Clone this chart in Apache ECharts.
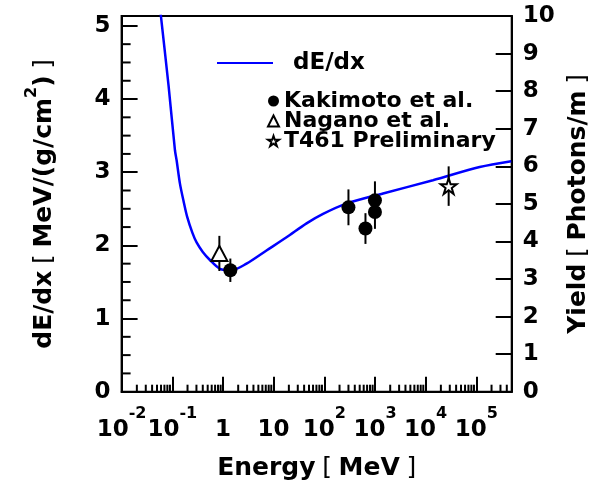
<!DOCTYPE html>
<html><head><meta charset="utf-8">
<script src="https://cdn.jsdelivr.net/npm/echarts@6/dist/echarts.min.js"></script>
<style>html,body{margin:0;padding:0;background:#fff}#c{width:595px;height:482px}</style>
</head><body><div id="c"></div>
<script>
const FONT = '"DejaVu Sans", "Liberation Sans", sans-serif';

// dE/dx curve (energy in MeV, dE/dx in MeV/(g/cm^2))
const curveEnergy = [0.0526, 0.0598, 0.0846, 0.113, 0.122, 0.142, 0.170, 0.197, 0.25, 0.302, 0.40, 0.553, 0.87, 1.48, 2.92, 7.24, 18.0, 44.7, 94.6, 273, 1445, 13960, 116500, 490000];
const curveDEdx   = [5.5,    5.13,   4.18,   3.30,  3.16,  2.84,  2.58,  2.39,  2.17, 2.04,  1.91, 1.80,  1.68, 1.66, 1.75, 1.93, 2.11, 2.30, 2.43, 2.57, 2.71, 2.89,  3.07,   3.15];

// Kakimoto et al.
const kakE   = [1.4, 300, 650, 1000, 1000];
const kakV   = [1.66, 2.52, 2.23, 2.615, 2.456];
const kakErr = [0.16, 0.245, 0.21, 0.26, 0.23];
// Nagano et al.
const nagE   = [0.85];
const nagV   = [1.89];
const nagErr = [0.24];
// T461 Preliminary
const t461E   = [28500];
const t461V   = [2.81];
const t461Err = [0.27];

// axis ranges
const xMin = 0.01, xMax = 5e5;
const yMax = 5.135, y2Max = 10;

const pairs = (xs, ys) => xs.map((x, i) => [x, ys[i]]);
const errs = (xs, ys, es) => xs.map((x, i) => [x, ys[i] - es[i], ys[i] + es[i]]);

// minor tick positions for the log axis (2..9 x 10^k) and the left axis (quarters)
const xMinor = [];
for (let e = -2; e <= 5; e++) for (let m = 2; m <= 9; m++) { const v = m * Math.pow(10, e); if (v < xMax) xMinor.push([v, 0]); }
const yMinor = [];
for (let k = 1; k * 0.25 < yMax; k++) if (k % 4) yMinor.push([xMin, k * 0.25]);

const STAR = 'path://M50,0 L61.8,35.1 L98.9,35.1 L68.9,56.8 L80.3,91.9 L50,70.2 L19.7,91.9 L31.1,56.8 L1.1,35.1 L38.2,35.1 Z';

const chart = echarts.init(document.getElementById('c'));
const bold = {fontFamily: FONT, fontWeight: 'bold', color: '#000'};

chart.setOption({
  animation: false,
  backgroundColor: '#fff',
  grid: {left: 121.6, right: 83.3, top: 16, bottom: 90.3, show: true, borderColor: '#000', borderWidth: 2, backgroundColor: 'transparent', outerBoundsMode: 'none'},
  legend: [
    {data: [{name: 'dE/dx', icon: 'rect'}], left: 212, top: 46, itemWidth: 56, itemHeight: 2, selectedMode: false,
     textStyle: Object.assign({fontSize: 23, lineHeight: 24, padding: [0, 0, 0, 15]}, bold)},
    {data: ['Kakimoto et al.', 'Nagano et al.', 'T461 Preliminary'], orient: 'vertical', left: 262, top: 85,
     itemWidth: 11, itemHeight: 11, itemGap: -2, selectedMode: false,
     textStyle: Object.assign({fontSize: 22, lineHeight: 22}, bold)}
  ],
  xAxis: {
    type: 'log', logBase: 10, min: xMin, max: xMax,
    axisLine: {lineStyle: {color: '#000', width: 2}},
    axisTick: {inside: true, length: 15, lineStyle: {color: '#000', width: 2}},
    splitLine: {show: false},
    axisLabel: {
      margin: 15, interval: 0, showMinLabel: true, showMaxLabel: false, hideOverlap: false,
      formatter: function (v) {
        const l = Math.log10(v), e = Math.round(l);
        if (Math.abs(l - e) > 1e-6) return '';
        if (e === 0) return '{b|1}';
        if (e === 1) return '{b|10}';
        return '{b|10}{s|' + e + '}';
      },
      rich: {
        b: Object.assign({fontSize: 23, lineHeight: 24, padding: [22, 0, 0, 0]}, bold),
        s: Object.assign({fontSize: 16, lineHeight: 16, padding: [10, 0, 20, 0]}, bold)
      }
    },
    name: '{b|Energy}  {n|[}  {b|MeV}  {n|]}',
    nameLocation: 'middle', nameGap: 64, nameMoveOverlap: false,
    nameTextStyle: {rich: {
      b: Object.assign({fontSize: 25}, bold),
      n: {fontFamily: FONT, fontSize: 25, color: '#000'}
    }}
  },
  yAxis: [
    {
      type: 'value', min: 0, max: yMax, interval: 1, position: 'left',
      axisLine: {show: true, lineStyle: {color: '#000', width: 2}},
      axisTick: {inside: true, length: 16, lineStyle: {color: '#000', width: 2}},
      splitLine: {show: false},
      axisLabel: Object.assign({fontSize: 23, margin: 11, showMaxLabel: false, showMinLabel: true,
        formatter: v => Number.isInteger(v) ? String(v) : ''}, bold),
      name: '{b|dE/dx}  {n|[}  {b|MeV/(g/cm}{s|2}{b|)}  {n|]}',
      nameLocation: 'middle', nameGap: 69, nameRotate: 90,
      nameTextStyle: {rich: {
        b: Object.assign({fontSize: 25, lineHeight: 25, padding: [8, 0, 0, 0]}, bold),
        n: {fontFamily: FONT, fontSize: 25, lineHeight: 25, padding: [8, 0, 0, 0], color: '#000'},
        s: Object.assign({fontSize: 16, lineHeight: 16, padding: [0, 0, 17, 0]}, bold)
      }}
    },
    {
      type: 'value', min: 0, max: y2Max, interval: 1, position: 'right',
      axisLine: {show: true, lineStyle: {color: '#000', width: 2}},
      axisTick: {inside: true, length: 16, lineStyle: {color: '#000', width: 2}},
      splitLine: {show: false},
      axisLabel: Object.assign({fontSize: 23, margin: 11}, bold),
      name: '{b|Yield}  {n|[}  {b|Photons/m}  {n|]}',
      nameLocation: 'middle', nameGap: 50, nameRotate: 90,
      nameTextStyle: {rich: {
        b: Object.assign({fontSize: 25}, bold),
        n: {fontFamily: FONT, fontSize: 25, color: '#000'}
      }}
    }
  ],
  series: [
    {name: 'dE/dx', type: 'line', data: pairs(curveEnergy, curveDEdx), symbol: 'none', showSymbol: false, smooth: 0.3,
     color: '#0000ff', lineStyle: {color: '#0000ff', width: 2.5}, clip: true, z: 2},
    {type: 'custom', name: 'xminor', data: xMinor, silent: true, z: 5,
     renderItem: function (params, api) {
       const p = api.coord([api.value(0), api.value(1)]);
       return {type: 'line', shape: {x1: p[0], y1: p[1], x2: p[0], y2: p[1] - 7}, style: {stroke: '#000', lineWidth: 2}};
     }},
    {type: 'custom', name: 'yminor', data: yMinor, silent: true, z: 5,
     renderItem: function (params, api) {
       const p = api.coord([api.value(0), api.value(1)]);
       return {type: 'line', shape: {x1: p[0], y1: p[1], x2: p[0] + 9, y2: p[1]}, style: {stroke: '#000', lineWidth: 2}};
     }},
    {type: 'custom', name: 'errors', silent: true, z: 3,
     data: errs(kakE, kakV, kakErr).concat(errs(nagE, nagV, nagErr), errs(t461E, t461V, t461Err)),
     encode: {x: 0, y: [1, 2]},
     renderItem: function (params, api) {
       const a = api.coord([api.value(0), api.value(1)]);
       const b = api.coord([api.value(0), api.value(2)]);
       return {type: 'line', shape: {x1: a[0], y1: a[1], x2: b[0], y2: b[1]}, style: {stroke: '#000', lineWidth: 2}};
     }},
    {name: 'Kakimoto et al.', type: 'scatter', data: pairs(kakE, kakV), symbol: 'circle', symbolSize: 14,
     itemStyle: {color: '#000', opacity: 1}, z: 4},
    {name: 'Nagano et al.', type: 'scatter', data: pairs(nagE, nagV), symbol: 'triangle', symbolSize: [16, 15],
     itemStyle: {color: '#fff', borderColor: '#000', borderWidth: 2, opacity: 1}, z: 4},
    {name: 'T461 Preliminary', type: 'scatter', data: pairs(t461E, t461V), symbol: STAR, symbolSize: 16,
     itemStyle: {color: '#fff', borderColor: '#000', borderWidth: 2, opacity: 1}, z: 4}
  ]
});
</script>
</body></html>
